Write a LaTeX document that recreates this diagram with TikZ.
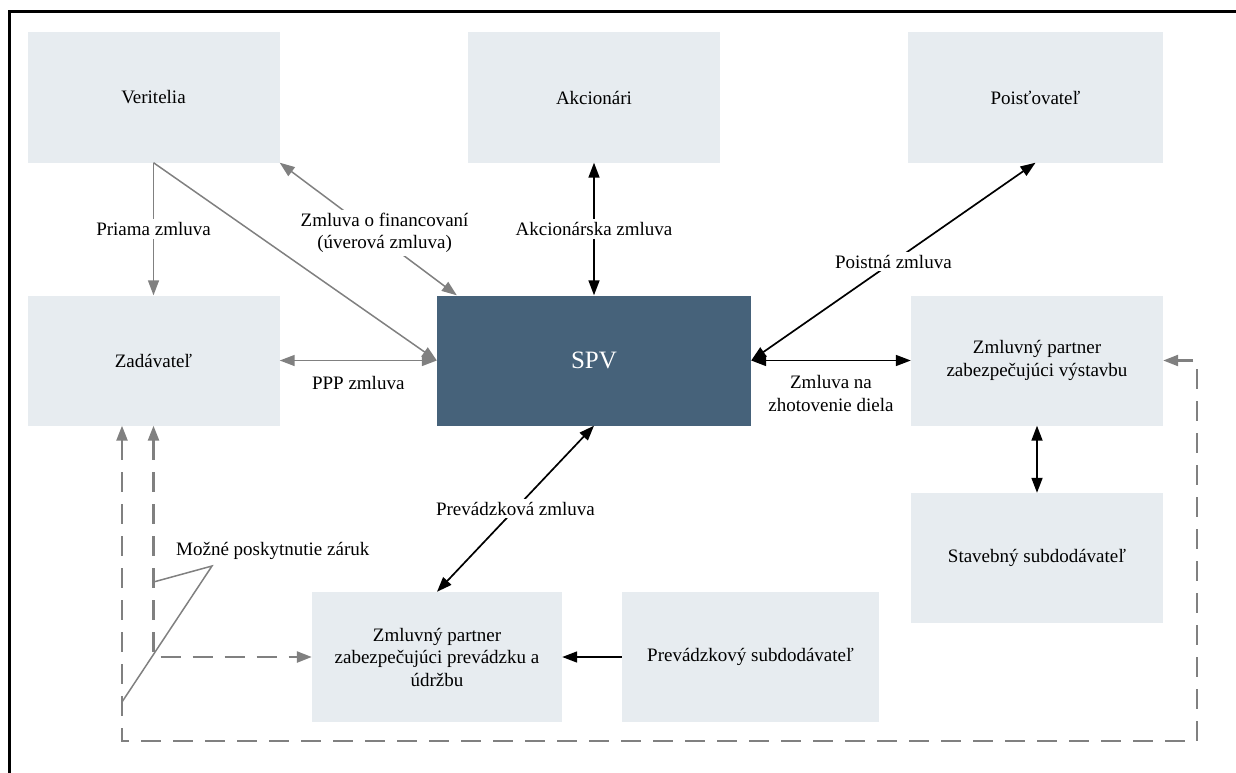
\documentclass[tikz,border=0pt]{standalone}
\usepackage{fontspec}
\setmainfont{Liberation Serif}
\usetikzlibrary{arrows.meta,calc}

\definecolor{blokseda}{HTML}{E7ECF0}
\definecolor{spvmodra}{HTML}{46627A}
\definecolor{ciaraseda}{HTML}{808080}

\def\sirka{252pt}
\def\vyska{130pt}

\begin{document}
\begin{tikzpicture}[x=1pt,y=-1pt,
    font=\fontsize{19}{22.5}\selectfont,
    >={Triangle[length=15pt,width=11pt]},
    blok/.style={rectangle, fill=blokseda, minimum width=\sirka, minimum height=\vyska, inner sep=0pt, align=center},
    popis/.style={fill=white, inner sep=3pt, align=center},
    sivo/.style={draw=ciaraseda, line width=1.5pt},
    cierna/.style={draw=black, line width=1.7pt},
    ciarkovane/.style={draw=ciaraseda, line width=2.5pt, dash pattern=on 20pt off 12pt}]
\useasboundingbox (0,0) rectangle (1236,773);

%ram
    \draw[line width=3pt] (9.5,773) -- (9.5,12) -- (1236,12);

%bloky
    \node[blok] (veritelia) at (153.5,97.5) {Veritelia};
    \node[blok] (akcionari) at (594,97.5) {Akcionári};
    \node[blok, minimum width=255pt] (poistovatel) at (1035.5,97.5) {Poisťovateľ};
    \node[blok] (zadavatel) at (153.5,360.5) {Zadávateľ};
    \node[blok, fill=spvmodra, text=white, minimum width=314pt, font=\fontsize{25}{30}\selectfont] (spv) at (594,360.5) {SPV};
    \node[blok] (vystavba) at (1037,360.5) {Zmluvný partner\\zabezpečujúci výstavbu};
    \node[blok] (stavebny) at (1037,558) {Stavebný subdodávateľ};
    \node[blok, minimum width=250pt] (prevadzka) at (437,657) {Zmluvný partner\\zabezpečujúci prevádzku a\\údržbu};
    \node[blok, minimum width=257pt] (subdodavatel) at (750.5,657) {Prevádzkový subdodávateľ};

%zmluvy
    \draw[sivo,->] (veritelia.south) -- node[popis] {Priama zmluva} (zadavatel.north);
    \draw[sivo,->] (veritelia.south) -- (spv.west);
    \draw[sivo,<->] (veritelia.south east) -- node[popis, pos=0.53, xshift=11pt] {Zmluva o financovaní\\(úverová zmluva)} ($(spv.north west)+(20,0)$);
    \draw[sivo,<->] (zadavatel.east) -- node[popis, yshift=-22pt] {PPP zmluva} (spv.west);

    \draw[cierna,<->] (akcionari.south) -- node[popis] {Akcionárska zmluva} (spv.north);
    \draw[cierna,<->] (poistovatel.south) -- node[popis] {Poistná zmluva} (spv.east);
    \draw[cierna,<->] (spv.east) -- node[popis, yshift=-33pt] {Zmluva na\\zhotovenie diela} (vystavba.west);
    \draw[cierna,<->] (spv.south) -- node[popis] {Prevádzková zmluva} (prevadzka.north);
    \draw[cierna,->] (subdodavatel.west) -- (prevadzka.east);
    \draw[cierna,<->] (vystavba.south) -- (stavebny.north);

%zaruky
    \coordinate (lavy) at (122,741);
    \coordinate (pravy) at (1197,741);
    \draw[ciarkovane,<->] (zadavatel.south -| lavy) -- (lavy) -- (pravy) |- (vystavba.east);
    \draw[ciarkovane,<->] (zadavatel.south) |- (prevadzka.west);

    \node[anchor=west, inner sep=0pt] (zaruky) at (176,551) {Možné poskytnutie záruk};
    \coordinate (hrot) at (212,566);
    \coordinate (vnutorny) at (153.5,582);
    \coordinate (vonkajsi) at (122,702);
    \draw[sivo] (vnutorny) -- (hrot) -- (vonkajsi);

\end{tikzpicture}
\end{document}
